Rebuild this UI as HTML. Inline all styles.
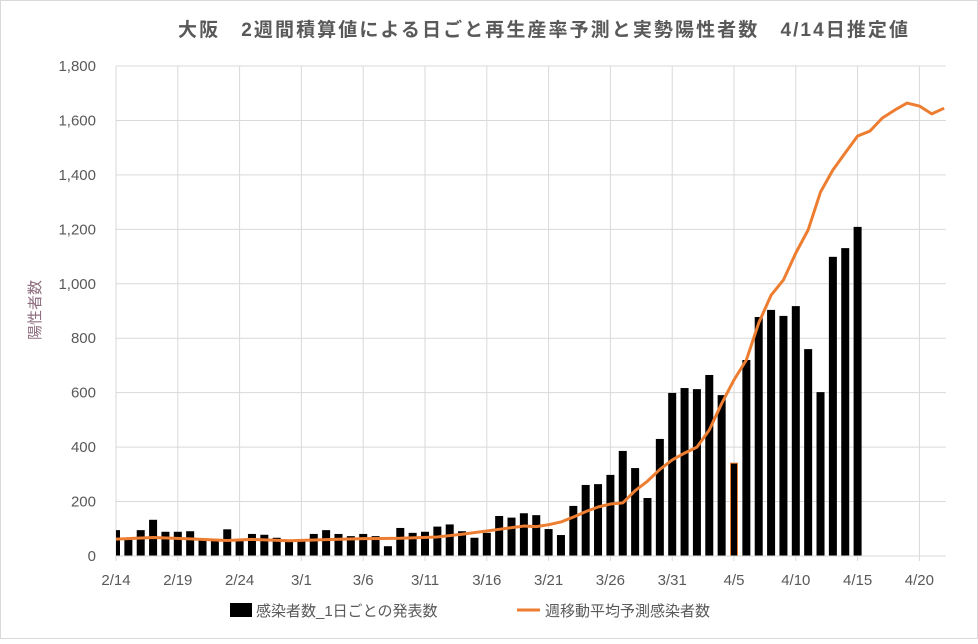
<!DOCTYPE html>
<html><head><meta charset="utf-8"><style>
body{margin:0;background:#fff;}
svg text{font-family:"Liberation Sans","Noto Sans CJK JP",sans-serif;}
</style></head><body>
<svg id="c" width="978" height="639" xmlns="http://www.w3.org/2000/svg">
<rect x="0.5" y="0.5" width="977" height="638" fill="#fff" stroke="#d9d9d9"/>
<text x="178" y="36" font-size="19" font-weight="bold" fill="#595959" textLength="730" lengthAdjust="spacing">大阪　2週間積算値による日ごと再生産率予測と実勢陽性者数　4/14日推定値</text>
<g id="g"></g>
<text transform="translate(40,310) rotate(-90)" text-anchor="middle" font-size="15" fill="#8f6f80">陽性者数</text>
<rect x="230" y="603" width="22" height="14" fill="#000"/>
<text x="256" y="616" font-size="15" fill="#595959">感染者数_1日ごとの発表数</text>
<line x1="517" y1="610" x2="540" y2="610" stroke="#ed7d31" stroke-width="3"/>
<text x="545" y="616" font-size="15" fill="#595959">週移動平均予測感染者数</text>
</svg>
<script>
var g=document.getElementById('g'),s='';
function X(d){return 116+12.36*d}
function Y(v){return 556-v*0.27222}
for(var v=0;v<=1800;v+=200){var y=Y(v);s+='<line x1="116" x2="946" y1="'+y+'" y2="'+y+'" stroke="#d9d9d9"/>';
s+='<text x="96" y="'+(y+5)+'" text-anchor="end" font-size="15" fill="#595959">'+v.toLocaleString('en-US')+'</text>';}
var labs=['2/14','2/19','2/24','3/1','3/6','3/11','3/16','3/21','3/26','3/31','4/5','4/10','4/15','4/20'];
for(var i=0;i<labs.length;i++){var x=X(i*5);s+='<line x1="'+x+'" x2="'+x+'" y1="66" y2="561" stroke="#d9d9d9"/>';
s+='<text x="'+x+'" y="585" text-anchor="middle" font-size="15" fill="#595959">'+labs[i]+'</text>';}
var b=[95,60,95,133,89,89,91,60,60,98,55,81,78,67,60,60,81,95,81,73,81,73,36,103,85,89,108,116,91,67,85,147,141,157,150,99,77,184,261,264,298,386,323,213,430,599,617,613,665,591,341,720,878,904,882,918,760,602,1099,1131,1209];
s+='<clipPath id="cp"><rect x="116" y="0" width="830" height="600"/></clipPath><g clip-path="url(#cp)">';
for(var i=0;i<b.length;i++){var x=X(i)-4;
if(i==50)s+='<rect x="'+(x+0.5)+'" y="'+Y(b[i])+'" width="7" height="'+(556-Y(b[i]))+'" fill="#000" stroke="#ed7d31" stroke-width="1"/>';
else s+='<rect x="'+x+'" y="'+Y(b[i])+'" width="8" height="'+(556-Y(b[i]))+'" fill="#000"/>';}
var L={0:62,3:68,6:63,9:57,11:61,14:56,17:60,20:64,23:65,26:70,28:80,31:98,33:110,34:108,35:115,36:125,37:143,38:163,39:180,40:191,41:195,42:240,43:275,44:318,45:353,46:378,47:400,48:463,49:560,50:647,51:720,52:856,53:958,54:1014,55:1113,56:1198,57:1337,58:1418,59:1481,60:1543,61:1561,62:1609,63:1638,64:1664,65:1653,66:1624,67:1645};
var p=[];for(var k in L)p.push(X(+k)+','+Y(L[k]));
s+='<polyline points="'+p.join(' ')+'" fill="none" stroke="#ed7d31" stroke-width="3" stroke-linejoin="round"/></g>';
s+='<line x1="116" x2="946" y1="556" y2="556" stroke="#d9d9d9"/>';
g.innerHTML=s;
</script>
</body></html>
